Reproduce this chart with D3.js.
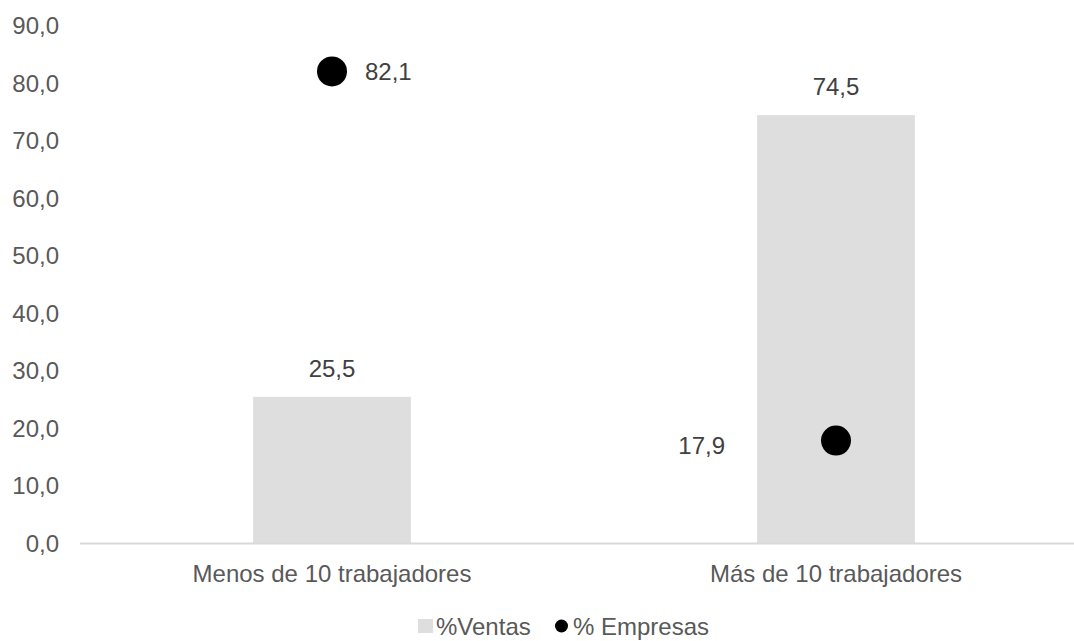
<!DOCTYPE html>
<html>
<head>
<meta charset="utf-8">
<script src="https://cdn.jsdelivr.net/npm/d3@7"></script>
<style>
  body { margin: 0; background: #fff; }
  svg { display: block; font-family: "Liberation Sans", Arial, sans-serif; }
</style>
</head>
<body>
<div id="chart"></div>
<script>
// Data
const categories = ["Menos de 10 trabajadores", "Más de 10 trabajadores"];
const ventas = [25.5, 74.5];
const empresas = [82.1, 17.9];
const yTicks = [0, 10, 20, 30, 40, 50, 60, 70, 80, 90];

const width = 1074, height = 641;
const fmt = v => d3.format(".1f")(v).replace(".", ",");

const svg = d3.select("#chart")
    .append("svg")
    .attr("width", width)
    .attr("height", height);

// Scales
const x = d3.scaleBand()
    .domain(categories)
    .range([80, 1088])
    .padding(0);

const y = d3.scaleLinear()
    .domain([0, 90])
    .range([543.5, 26]);

const barW = x.bandwidth() * 0.313;
const cx = d => x(d) + x.bandwidth() / 2;

// Y tick labels (no gridlines)
svg.append("g")
    .selectAll("text")
    .data(yTicks)
    .join("text")
    .attr("x", 59)
    .attr("y", d => y(d))
    .attr("dy", "0.35em")
    .attr("text-anchor", "end")
    .attr("fill", "#595959")
    .style("font-size", "24px")
    .text(d => fmt(d));

// Bars
svg.append("g")
    .selectAll("rect")
    .data(categories)
    .join("rect")
    .attr("x", d => cx(d) - barW / 2)
    .attr("y", (d, i) => y(ventas[i]))
    .attr("width", barW)
    .attr("height", (d, i) => y(0) - y(ventas[i]))
    .attr("fill", "#dedede");

// X axis line
svg.append("line")
    .attr("x1", 80)
    .attr("x2", width)
    .attr("y1", y(0))
    .attr("y2", y(0))
    .attr("stroke", "#d9d9d9")
    .attr("stroke-width", 2);

// Category labels
svg.append("g")
    .selectAll("text")
    .data(categories)
    .join("text")
    .attr("x", d => cx(d))
    .attr("y", 582)
    .attr("text-anchor", "middle")
    .attr("fill", "#595959")
    .style("font-size", "24px")
    .text(d => d);

// Bar value labels
svg.append("g")
    .selectAll("text")
    .data(categories)
    .join("text")
    .attr("x", d => cx(d))
    .attr("y", (d, i) => y(ventas[i]) - 20)
    .attr("text-anchor", "middle")
    .attr("fill", "#404040")
    .style("font-size", "24px")
    .text((d, i) => fmt(ventas[i]));

// Dots
svg.append("g")
    .selectAll("circle")
    .data(categories)
    .join("circle")
    .attr("cx", d => cx(d))
    .attr("cy", (d, i) => y(empresas[i]))
    .attr("r", 15)
    .attr("fill", "#000");

// Dot labels: first to the right, second to the left
const dotLabel = [{dx: 33, dy: 9, anchor: "start"}, {dx: -111, dy: 13.5, anchor: "end"}];
svg.append("g")
    .selectAll("text")
    .data(categories)
    .join("text")
    .attr("x", (d, i) => cx(d) + dotLabel[i].dx)
    .attr("y", (d, i) => y(empresas[i]) + dotLabel[i].dy)
    .attr("text-anchor", (d, i) => dotLabel[i].anchor)
    .attr("fill", "#404040")
    .style("font-size", "24px")
    .text((d, i) => fmt(empresas[i]));

// Legend (nudged up slightly so descenders stay inside the frame)
const legend = svg.append("g");
legend.append("rect")
    .attr("x", 418)
    .attr("y", 619)
    .attr("width", 15)
    .attr("height", 14)
    .attr("fill", "#dedede");
legend.append("text")
    .attr("x", 436)
    .attr("y", 635)
    .attr("fill", "#595959")
    .style("font-size", "24px")
    .text("%Ventas");
legend.append("circle")
    .attr("cx", 561.5)
    .attr("cy", 626)
    .attr("r", 6.5)
    .attr("fill", "#000");
legend.append("text")
    .attr("x", 573)
    .attr("y", 635)
    .attr("fill", "#595959")
    .style("font-size", "24px")
    .text("% Empresas");
</script>
</body>
</html>
